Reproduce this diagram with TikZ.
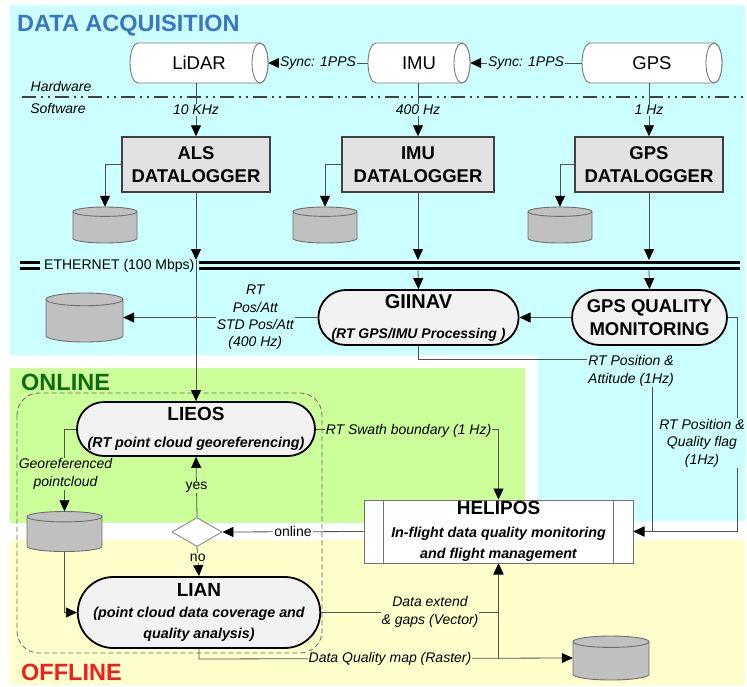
\documentclass[tikz,border=0pt]{standalone}
\usepackage{fontspec}
\setmainfont{Liberation Sans}
\usetikzlibrary{arrows.meta,shapes.misc,shapes.geometric,calc}
\definecolor{cyanbg}{HTML}{CCFFFF}
\definecolor{greenbg}{HTML}{CCFF99}
\definecolor{yellowbg}{HTML}{FFFFCC}
\definecolor{titleblue}{HTML}{3A76C6}
\definecolor{onlinegreen}{HTML}{0E6B12}
\definecolor{offlinered}{HTML}{F01E1E}
\definecolor{linegray}{HTML}{505050}
\definecolor{dlfill}{HTML}{E2E2E2}
\definecolor{procfill}{HTML}{F2F2F2}
\definecolor{diskfill}{HTML}{C0C0C0}
\definecolor{diskline}{HTML}{6E6E6E}
\definecolor{cylline}{HTML}{7A7A7A}
\tikzset{
  conn/.style={draw=linegray, line width=0.8pt},
  arr/.style={conn, -{Triangle[length=11pt,width=10pt,color=black]}},
  lbl/.style={font=\fontsize{14}{17.4}\selectfont\itshape, inner sep=1pt, align=center},
  uplbl/.style={font=\fontsize{14}{17.4}\selectfont, inner sep=1pt, align=center},
  dlbox/.style={draw=black!75, fill=dlfill, line width=1.5pt, minimum width=148pt, minimum height=55pt,
     align=center, font=\fontsize{18.5}{23}\selectfont\bfseries, inner sep=0pt},
  proc/.style={rounded rectangle, draw=black, fill=procfill, line width=1.8pt, align=center, inner sep=0pt},
  cylst/.style={draw=cylline, fill=white, line width=0.9pt},
  diskst/.style={draw=diskline, fill=diskfill, line width=0.9pt},
  ethline/.style={draw=black, line width=2.2pt},
  zonetitle/.style={font=\fontsize{23.5}{28}\selectfont\bfseries, anchor=west, inner sep=0pt},
}
\newcommand{\hcylinder}[5]{%
  \pgfmathsetmacro\hcL{#2-#4/2+8}%
  \pgfmathsetmacro\hcR{#2+#4/2-8}%
  \draw[cylst] (\hcR,#3-20) -- (\hcL,#3-20) arc[start angle=270,end angle=90,x radius=8,y radius=20]
     -- (\hcR,#3+20) arc[start angle=90,end angle=-90,x radius=8,y radius=20] -- cycle;
  \draw[cylst] (\hcR,#3) ellipse[x radius=8, y radius=20];
  \node[minimum width=#4pt, minimum height=40pt, inner sep=0pt, font=\fontsize{18.5}{22}\selectfont] (#1) at (#2,#3) {#5};
}
\newcommand{\dbdisk}[5]{%
  \pgfmathsetmacro\dkx{#4/2}%
  \pgfmathsetmacro\dky{#5/2}%
  \pgfmathsetmacro\dke{#5*0.13}%
  \draw[diskst] (#2-\dkx,#3-\dky+\dke) -- (#2-\dkx,#3+\dky-\dke) arc[start angle=180,end angle=0,x radius=\dkx,y radius=\dke]
     -- (#2+\dkx,#3-\dky+\dke) arc[start angle=360,end angle=180,x radius=\dkx,y radius=\dke] -- cycle;
  \draw[diskst, fill=none] (#2-\dkx,#3-\dky+\dke) arc[start angle=180,end angle=0,x radius=\dkx,y radius=\dke];
  \node[minimum width=#4pt, minimum height=#5pt, inner sep=0pt] (#1) at (#2,#3) {};
}
\begin{document}
\begin{tikzpicture}[x=1pt,y=-1pt]
\useasboundingbox (0,0) rectangle (747,686);
% zone backgrounds
\fill[cyanbg] (10,5) -- (745,5) -- (745,521) -- (538,521) -- (538,355) -- (10,355) -- cycle;
\fill[greenbg] (10,368) rectangle (525,523);
\fill[yellowbg] (10,540) rectangle (745,685);
\node[zonetitle, text=titleblue] (tacq) at (17,26) {DATA ACQUISITION};
\node[zonetitle, text=onlinegreen] (tonl) at (21,382) {ONLINE};
\node[zonetitle, text=offlinered] (toff) at (21,672) {OFFLINE};
% hardware / software divider
\draw[line width=1.4pt, draw=black!75, dash pattern=on 14pt off 5pt on 2pt off 5pt on 2pt off 5pt] (22,97) -- (745,97);
\node[lbl] (hw) at (61,86) {Hardware};
\node[lbl] (sw) at (58,108) {Software};
% ethernet
\draw[ethline] (20,262.5) -- (40,262.5);
\draw[ethline] (20,268.5) -- (40,268.5);
\draw[ethline] (199,262.5) -- (740,262.5);
\draw[ethline] (199,268.5) -- (740,268.5);
\node[font=\fontsize{14}{17}\selectfont, anchor=west, inner sep=0pt] (ethlbl) at (44,266) {ETHERNET (100 Mbps)};
\coordinate (ethA) at (196,260);
\coordinate (ethB) at (418,260);
\coordinate (ethB2) at (418,270);
\coordinate (ethC) at (649,260);
\coordinate (ethC2) at (649,270);
% dashed processing frame
\draw[draw=black!60, line width=0.8pt, dash pattern=on 5pt off 3pt, rounded corners=22pt] (17,393) rectangle (322,653);
% sensors
\hcylinder{lidar}{199}{63}{138}{LiDAR}
\hcylinder{imu}{419}{63}{102}{IMU}
\hcylinder{gps}{652}{63}{140}{GPS}
% dataloggers
\node[dlbox] (alsdl) at (196,164.5) {ALS\\DATALOGGER};
\node[dlbox, minimum width=152pt] (imudl) at (418,164.5) {IMU\\DATALOGGER};
\node[dlbox] (gpsdl) at (649,164.5) {GPS\\DATALOGGER};
% disks
\dbdisk{alsdisk}{105}{225}{64}{36}
\dbdisk{imudisk}{325}{225}{64}{36}
\dbdisk{gpsdisk}{560}{225}{64}{36}
\dbdisk{posdisk}{84.5}{317.5}{77}{49}
\dbdisk{gdisk}{64.5}{531.5}{75}{40}
\dbdisk{rdisk}{611}{658}{76}{44}
% processes
\node[proc, minimum width=197pt, minimum height=55pt, font=\fontsize{14}{30}\selectfont\bfseries] (giinav) at (418.5,317.5)
  {{\fontsize{20}{30}\selectfont GIINAV}\\{\itshape (RT GPS/IMU Processing )}};
\node[proc, minimum width=155pt, minimum height=55pt, font=\fontsize{18.5}{23}\selectfont\bfseries] (gpsqm) at (649.5,317.5)
  {GPS QUALITY\\MONITORING};
\node[proc, minimum width=238pt, minimum height=54pt, font=\fontsize{14.3}{26.7}\selectfont\bfseries] (lieos) at (196,429)
  {{\fontsize{19}{26.7}\selectfont LIEOS}\\{\itshape (RT point cloud georeferencing)}};
\node[proc, minimum width=228pt, minimum height=71pt, font=\fontsize{14.3}{21}\selectfont\bfseries\itshape] (lian) at (199,612.5)
  {{\fontsize{19}{21}\selectfont\upshape LIAN}\\[0.7pt](point cloud data coverage and\\quality analysis)};
\node[draw=black!55, fill=white, line width=0.9pt, minimum width=269pt, minimum height=63pt, inner sep=0pt, align=center,
  font=\fontsize{14.3}{21}\selectfont\bfseries\itshape] (helipos) at (498.5,531.5)
  {{\fontsize{19}{21}\selectfont\upshape HELIPOS}\\[1.7pt]In-flight data quality monitoring\\and flight management};
\draw[draw=black!55, line width=0.9pt] ($(helipos.north west)+(20,0)$) -- ($(helipos.south west)+(20,0)$);
\draw[draw=black!55, line width=0.9pt] ($(helipos.north east)+(-20,0)$) -- ($(helipos.south east)+(-20,0)$);
\node[diamond, draw=black!50, fill=white, line width=0.8pt, minimum width=50pt, minimum height=29pt, inner sep=0pt] (dec) at (197,532) {};
% connectors: sensors
\draw[arr] (imu.west) -- node[lbl, fill=cyanbg] (s1) {Sync: 1PPS} (lidar.east);
\draw[arr] (gps.west) -- node[lbl, fill=cyanbg] (s2) {Sync: 1PPS} (imu.east);
\draw[arr] (lidar.south -| alsdl.north) -- node[lbl, fill=cyanbg] (f1) {10 KHz} (alsdl.north);
\draw[arr] (imu.south -| imudl.north) -- node[lbl, fill=cyanbg] (f2) {400 Hz} (imudl.north);
\draw[arr] (gps.south -| gpsdl.north) -- node[lbl, fill=cyanbg] (f3) {1 Hz} (gpsdl.north);
% dataloggers to disks
\draw[arr] (alsdl.west) -| (alsdisk.north);
\draw[arr] (imudl.west) -| (imudisk.north);
\draw[arr] (gpsdl.west) -| (gpsdisk.north);
% dataloggers to ethernet and processes
\draw[arr] (alsdl.south) -- (ethA);
\draw[arr] (ethA) -- (lieos.north);
\draw[arr] (imudl.south) -- (ethB);
\draw[arr] (ethB2) -- (giinav.north);
\draw[arr] (gpsdl.south) -- (ethC);
\draw[arr] (ethC2) -- (gpsqm.north);
\draw[arr] (gpsqm.west) -- (giinav.east);
\draw[arr] (giinav.west) -- node[lbl, fill=cyanbg, pos=0.32] (pa) {RT\\Pos/Att\\STD Pos/Att\\(400 Hz)} (posdisk.east);
% to HELIPOS
\coordinate (gA) at (418.5,359);
\coordinate (gB) at (652,359);
\coordinate (gC) at (652,531.5);
\draw[arr] (giinav.south) -- (gA) -- (gB) -- (gC) -- (helipos.east);
\coordinate (qA) at (737,317.5);
\coordinate (qB) at (737,531.5);
\draw[arr] (gpsqm.east) -- (qA) -- (qB) -- (helipos.east);
\node[lbl, fill=cyanbg] (latt) at (631,371) {RT Position \&\\Attitude (1Hz)};
\node[lbl, fill=cyanbg] (lqual) at (702,443) {RT Position \&\\Quality flag\\(1Hz)};
\coordinate (sA) at (498.5,429);
\draw[arr] (lieos.east) -- (sA) -- (helipos.north);
\node[lbl, fill=greenbg] (lswath) at (408.5,431) {RT Swath boundary (1 Hz)};
% online / offline loop
\coordinate (lA) at (64.5,429);
\draw[arr] (lieos.west) -- (lA) -- (gdisk.north);
\node[lbl, fill=greenbg] (lgeo) at (65.5,474) {Georeferenced\\pointcloud};
\draw[arr] (gdisk.south) |- (lian.west);
\draw[arr] (dec.north) -- node[uplbl, fill=greenbg] (lyes) {yes} (lieos.south);
\draw[arr] (dec.south) -- node[uplbl, fill=yellowbg, pos=0.38] (lno) {no} (lian.north);
\draw[arr] (helipos.west) -- node[uplbl, fill=white] (lonl) {online} (dec.east);
\coordinate (vA) at (498.5,612.5);
\draw[arr] (lian.east) -- (vA) -- (helipos.south);
\node[lbl, fill=yellowbg] (lvec) at (430,612) {Data extend\\\& gaps (Vector)};
\coordinate (rA) at (199,659);
\coordinate (rB) at (498.5,659);
\draw[arr] (lian.south) -- (rA) -- (rdisk.west);
\draw[arr] (rB) -- (helipos.south);
\node[lbl, fill=yellowbg] (lras) at (390,659) {Data Quality map (Raster)};
\end{tikzpicture}
\end{document}
